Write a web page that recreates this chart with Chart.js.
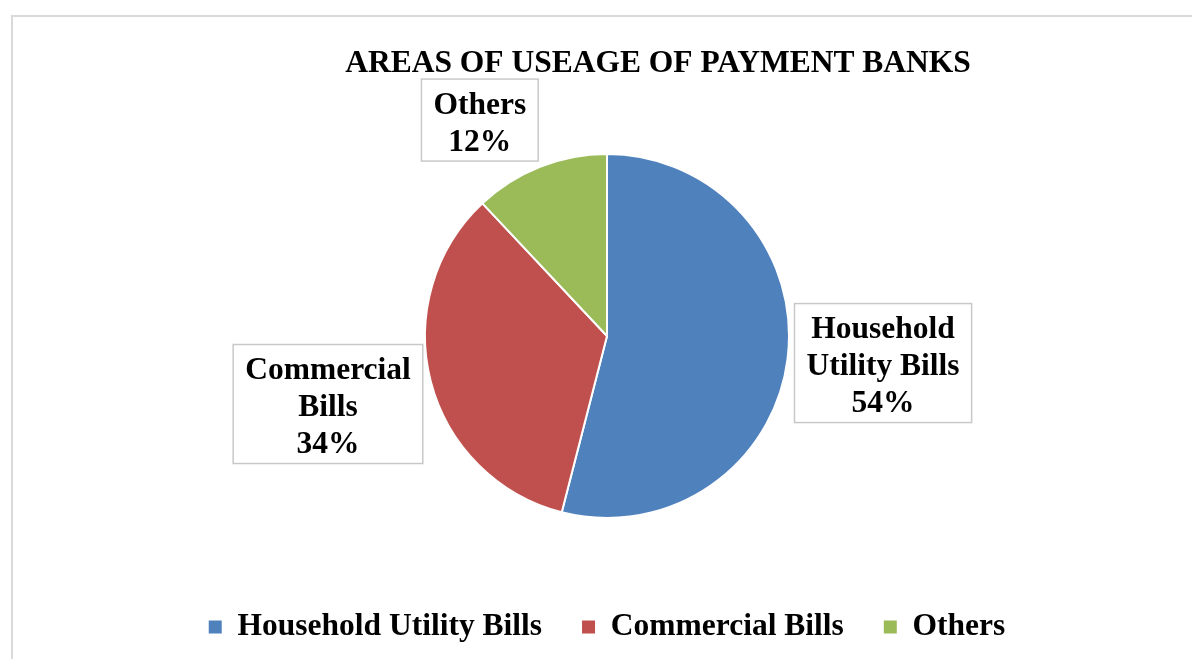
<!DOCTYPE html>
<html>
<head>
<meta charset="utf-8">
<title>Areas of Useage of Payment Banks</title>
<script src="https://cdn.jsdelivr.net/npm/chart.js@4.4.1/dist/chart.umd.min.js"></script>
<style>
  html, body { margin: 0; padding: 0; background: #fff; overflow: hidden; }
  #wrap { position: relative; width: 1192px; height: 659px; }
  #frame { position: absolute; left: 11px; top: 15px; width: 1300px; height: 800px;
           border: 2px solid #d9d9d9; box-sizing: border-box; }
  #wrap canvas { position: absolute; left: 0; top: 0; }
</style>
</head>
<body>
<div id="wrap">
  <div id="frame"></div>
  <canvas id="myChart"></canvas>
</div>
<script>
var chartTitle = "AREAS OF USEAGE OF PAYMENT BANKS";
var categories = ["Household Utility Bills", "Commercial Bills", "Others"];
var shares = [54, 34, 12];
var sliceColors = ["#4F81BD", "#C0504D", "#9BBB59"];
// how the boxed data labels wrap
var labelLines = [["Household", "Utility Bills"], ["Commercial", "Bills"], ["Others"]];

var serif = "'Liberation Serif', 'Times New Roman', serif";

/* title drawn a bit right of the pie centre, like the original */
var titlePlugin = {
  id: 'sideTitle',
  afterDraw: function (chart, args, opts) {
    var ctx = chart.ctx;
    ctx.save();
    ctx.font = "bold 31.5px " + serif;
    ctx.fillStyle = "#000";
    ctx.textAlign = "center";
    ctx.textBaseline = "alphabetic";
    ctx.fillText(opts.text, opts.x, opts.y);
    ctx.restore();
  }
};

/* boxed labels outside each slice */
var boxLabels = {
  id: 'boxLabels',
  afterDatasetsDraw: function (chart, args, opts) {
    var ctx = chart.ctx;
    var meta = chart.getDatasetMeta(0);
    var values = chart.data.datasets[0].data;
    var total = values.reduce(function (a, b) { return a + b; }, 0);
    ctx.save();
    ctx.font = "bold 31.5px " + serif;
    meta.data.forEach(function (arc, i) {
      var p = arc.getProps(['x', 'y', 'startAngle', 'endAngle', 'outerRadius'], true);
      var place = opts.place[i];
      var mid = (p.startAngle + p.endAngle) / 2 + place.shift * Math.PI / 180;
      var cx = p.x + Math.cos(mid) * p.outerRadius * place.dist;
      var cy = p.y + Math.sin(mid) * p.outerRadius * place.dist;
      var lines = labelLines[i].concat([Math.round(values[i] / total * 100) + "%"]);
      var w = 0;
      lines.forEach(function (t) { w = Math.max(w, ctx.measureText(t).width); });
      var lh = 37;
      var bw = w + 24, bh = lines.length * lh + 8;
      ctx.fillStyle = "#fff";
      ctx.fillRect(cx - bw / 2, cy - bh / 2, bw, bh);
      ctx.strokeStyle = "#c8c8c8";
      ctx.lineWidth = 1.5;
      ctx.strokeRect(cx - bw / 2, cy - bh / 2, bw, bh);
      ctx.fillStyle = "#000";
      ctx.textAlign = "center";
      ctx.textBaseline = "alphabetic";
      lines.forEach(function (t, k) {
        ctx.fillText(t, cx, cy + (k - (lines.length - 1) / 2) * lh + 12);
      });
    });
    ctx.restore();
  }
};

var canvas = document.getElementById("myChart");
var chart = new Chart(canvas, {
  type: 'pie',
  data: {
    labels: categories,
    datasets: [{
      data: shares,
      backgroundColor: sliceColors,
      borderColor: "#fff",
      borderWidth: 2,
      radius: 182
    }]
  },
  options: {
    responsive: true,
    maintainAspectRatio: false,
    animation: false,
    layout: { padding: { top: 100.75, bottom: 6.25, left: 22, right: 0 } },
    plugins: {
      legend: {
        display: true,
        position: 'bottom',
        labels: {
          boxWidth: 13,
          boxHeight: 13,
          padding: 40,
          color: "#000",
          font: { family: serif, size: 31.5, weight: 'bold' },
          generateLabels: function (chart) {
            var items = Chart.controllers.pie.overrides.plugins.legend.labels.generateLabels(chart);
            items.forEach(function (it) { it.lineWidth = 0; });
            return items;
          }
        }
      },
      title: { display: false },
      tooltip: { enabled: false },
      sideTitle: { text: chartTitle, x: 658, y: 72 },
      boxLabels: {
        place: [
          { dist: 1.524, shift: -1.6 },
          { dist: 1.578, shift: 0.7 },
          { dist: 1.377, shift: -8.9 }
        ]
      }
    }
  },
  plugins: [titlePlugin, boxLabels]
});
</script>
</body>
</html>
